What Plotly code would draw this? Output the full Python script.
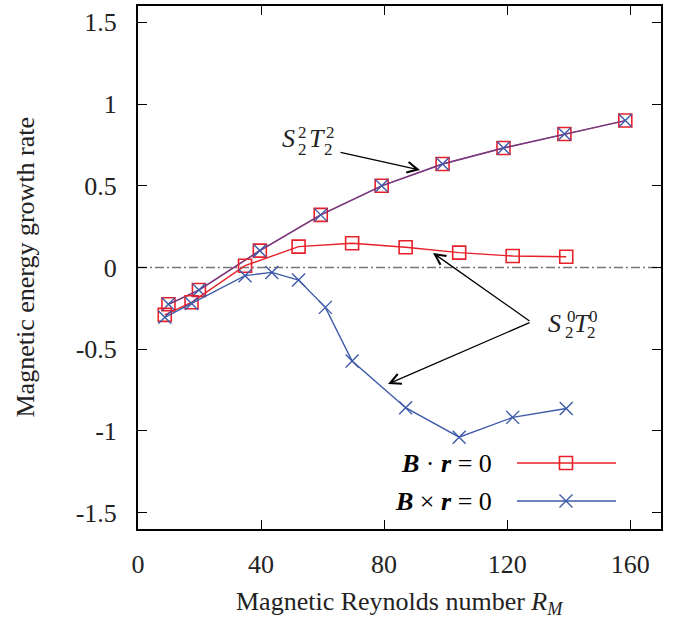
import plotly.graph_objects as go

# ---------------- data ----------------
rm_s22 = [9.9, 19.8, 39.6, 59.4, 79.2, 99.0, 118.8, 138.6, 158.4]
s22_bdotr = [-0.225, -0.138, 0.103, 0.322, 0.500, 0.633, 0.731, 0.817, 0.899]
s22_bcrossr = [-0.225, -0.138, 0.103, 0.322, 0.500, 0.633, 0.731, 0.817, 0.899]

rm_s20_dot = [8.7, 17.4, 34.8, 52.2, 69.6, 87.0, 104.4, 121.8, 139.2]
s20_bdotr = [-0.290, -0.213, 0.011, 0.128, 0.148, 0.124, 0.091, 0.070, 0.066]

rm_s20_cross = [8.7, 17.4, 34.8, 43.5, 52.2, 60.9, 69.6, 87.0, 104.4, 121.8, 139.2]
s20_bcrossr = [-0.305, -0.220, -0.050, -0.030, -0.077, -0.244, -0.572, -0.858, -1.038, -0.917, -0.863]

x_ticks = [0, 40, 80, 120, 160]
y_ticks = [-1.5, -1.0, -0.5, 0.0, 0.5, 1.0, 1.5]
y_ticktext = ["-1.5", "-1", "-0.5", "0", "0.5", "1", "1.5"]

legend_labels = ["<b><i>B</i></b> · <b><i>r</i></b> = 0", "<b><i>B</i></b> × <b><i>r</i></b> = 0"]

# ---------------- style ----------------
RED = "#e8202a"
BLUE = "#3c5aa8"
BLUE_OVER = "rgba(60,70,175,0.72)"
FONT = "Liberation Serif, Times New Roman, Times, serif"
W, H = 674, 623
L, R, T, B = 138, 13, 6, 94
XR = [0, 170]
YR = [-1.6, 1.6]
PW, PH = W - L - R, H - T - B


def px2x(px):
    return XR[0] + (px - L) / PW * (XR[1] - XR[0])


def px2y(py):
    return YR[0] + (H - B - py) / PH * (YR[1] - YR[0])


def px2paperx(px):
    return (px - L) / PW


def px2papery(py):
    return (H - B - py) / PH


fig = go.Figure()

# S22T22 (both boundary conditions coincide)
fig.add_trace(go.Scatter(x=rm_s22, y=s22_bdotr, mode="lines+markers",
                         line=dict(color=RED, width=1.4),
                         marker=dict(symbol="square-open", size=13, color=RED, line=dict(width=1.6)),
                         showlegend=False))
fig.add_trace(go.Scatter(x=rm_s22, y=s22_bcrossr, mode="lines+markers",
                         line=dict(color=BLUE_OVER, width=1.4),
                         marker=dict(symbol="x-thin-open", size=13, color=BLUE, line=dict(width=1.4, color=BLUE)),
                         showlegend=False))
# S20T20
fig.add_trace(go.Scatter(x=rm_s20_dot, y=s20_bdotr, mode="lines+markers",
                         line=dict(color=RED, width=1.4),
                         marker=dict(symbol="square-open", size=13, color=RED, line=dict(width=1.6)),
                         showlegend=False))
fig.add_trace(go.Scatter(x=rm_s20_cross, y=s20_bcrossr, mode="lines+markers",
                         line=dict(color=BLUE, width=1.4),
                         marker=dict(symbol="x-thin-open", size=13, color=BLUE, line=dict(width=1.4, color=BLUE)),
                         showlegend=False))

# zero line
fig.add_shape(type="line", xref="paper", yref="y", x0=0, x1=1, y0=0, y1=0,
              line=dict(color="#777777", width=1.4, dash="9px,3px,2px,3px"), layer="below")

# legend (manual: text left, sample right)
leg_rows = [(463, RED, "square-open", 1.6), (501, BLUE, "x-thin-open", 1.4)]
for (py, col, sym, lw), lab in zip(leg_rows, legend_labels):
    fig.add_shape(type="line", xref="x", yref="y", x0=px2x(517), x1=px2x(616), y0=px2y(py), y1=px2y(py),
                  line=dict(color=col, width=1.4))
    fig.add_trace(go.Scatter(x=[px2x(566)], y=[px2y(py)], mode="markers",
                             marker=dict(symbol=sym, size=13, color=col, line=dict(width=lw, color=col)),
                             showlegend=False, hoverinfo="skip"))
    fig.add_annotation(x=px2paperx(494), y=px2papery(py), xref="paper", yref="paper", text=lab,
                       showarrow=False, xanchor="right", yanchor="middle",
                       font=dict(family=FONT, size=26, color="black"))

# arrows
arrows = [((339, 152), (420, 170)), ((531, 322), (433, 253)), ((531, 322), (388, 384))]
for (tx, ty), (hx, hy) in arrows:
    fig.add_annotation(x=px2x(hx), y=px2y(hy), ax=px2x(tx), ay=px2y(ty), xref="x", yref="y",
                       axref="x", ayref="y", text="", showarrow=True, arrowhead=5, arrowsize=1.6,
                       arrowwidth=1.3, arrowcolor="black", standoff=0, startstandoff=0)


def label(parts):
    for txt, px, py, size, italic in parts:
        t = f"<i>{txt}</i>" if italic else txt
        fig.add_annotation(x=px2paperx(px), y=px2papery(py), xref="paper", yref="paper", text=t,
                           showarrow=False, xanchor="center", yanchor="middle",
                           font=dict(family=FONT, size=size, color="#222222"))


label([("S", 288.5, 139, 26, True), ("2", 302, 132, 17, False), ("2", 302, 149, 17, False),
       ("T", 316.5, 139, 26, True), ("2", 330, 132, 17, False), ("2", 328, 149, 17, False)])
label([("S", 554, 323, 26, True), ("0", 571, 316, 17, False), ("2", 569, 332, 17, False),
       ("T", 582, 323, 26, True), ("0", 593, 316, 17, False), ("2", 591, 332, 17, False)])

# axis titles
fig.add_annotation(x=0.5, y=px2papery(603), xref="paper", yref="paper", showarrow=False,
                   text="Magnetic Reynolds number <i>R</i><sub><i>M</i></sub>",
                   font=dict(family=FONT, size=26, color="#222222"), xanchor="center", yanchor="middle")
fig.add_annotation(x=px2paperx(25), y=0.5, xref="paper", yref="paper", showarrow=False,
                   text="Magnetic energy growth rate", textangle=-90,
                   font=dict(family=FONT, size=26, color="#222222"), xanchor="center", yanchor="middle")

axis_common = dict(showline=True, linewidth=2, linecolor="black", mirror="ticks", ticks="inside",
                   ticklen=9, tickwidth=1.4, tickcolor="black", showgrid=False, zeroline=False,
                   tickfont=dict(family=FONT, size=26, color="#222222"))
fig.update_xaxes(range=XR, tickvals=x_ticks, ticklabelstandoff=11, **axis_common)
fig.update_yaxes(range=YR, tickvals=y_ticks, ticktext=y_ticktext, ticklabelstandoff=14, **axis_common)

fig.update_layout(width=W, height=H, margin=dict(l=L, r=R, t=T, b=B, autoexpand=False),
                  plot_bgcolor="white", paper_bgcolor="white", showlegend=False,
                  font=dict(family=FONT))

fig.write_html("out.html", config={"displayModeBar": False},
               post_script="document.body.style.margin='0';")
